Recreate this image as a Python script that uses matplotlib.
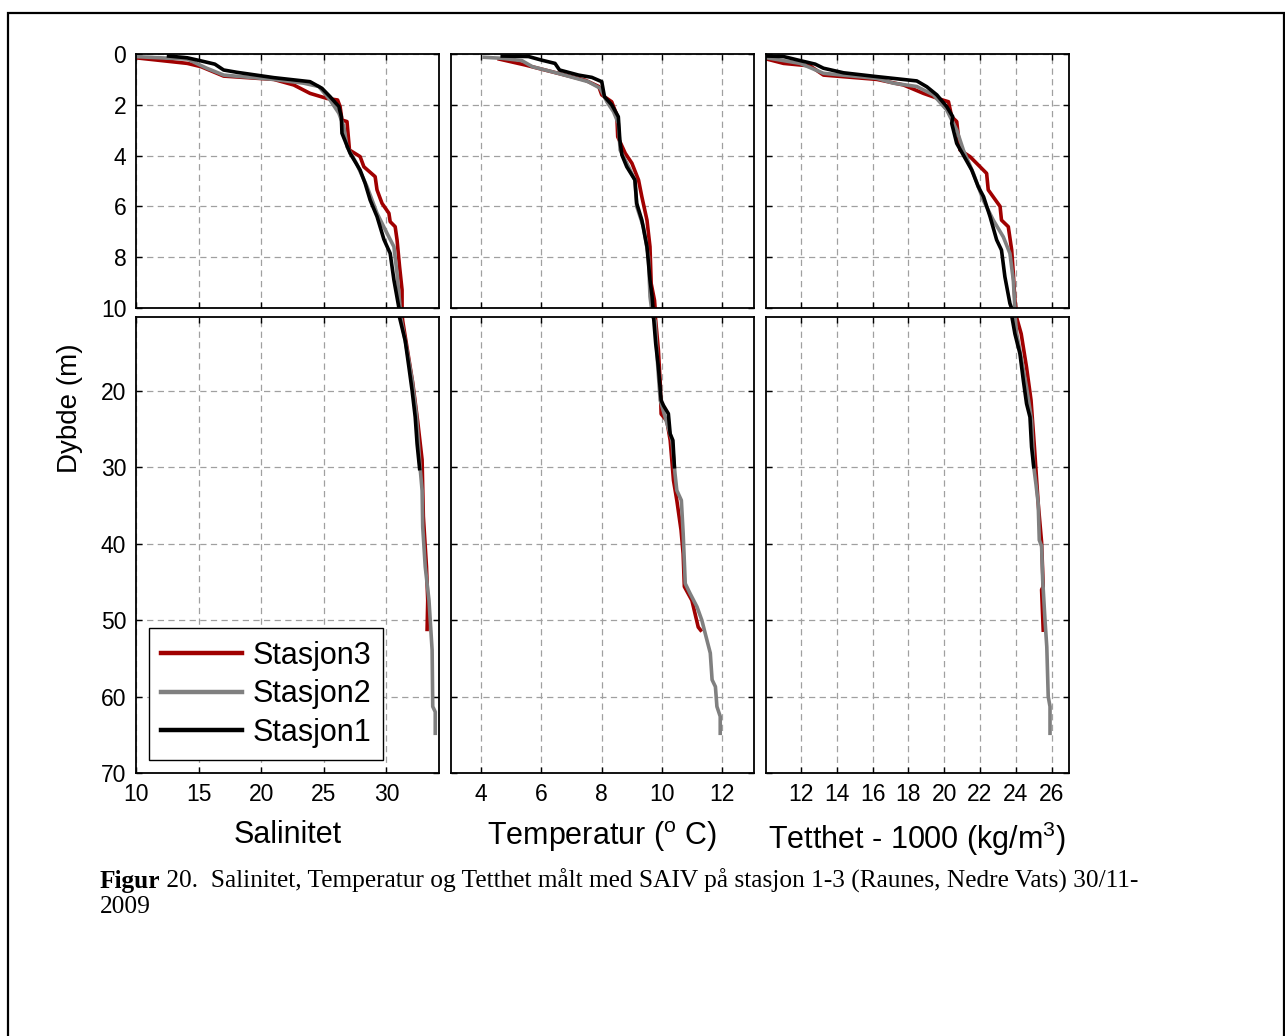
import matplotlib
matplotlib.use("Agg")
import matplotlib.pyplot as plt
from matplotlib.patches import Rectangle
from matplotlib.text import Annotation

plt.rcParams['font.family'] = ['Liberation Sans', 'DejaVu Sans']
plt.rcParams['mathtext.default'] = 'regular'

# ---------------- data ----------------
stations = ["Stasjon3", "Stasjon2", "Stasjon1"]
colors = ["#a00000", "#808080", "#000000"]

# Salinity
sal_depth_1 = [0.08, 0.15, 0.26, 0.40, 0.63, 0.72, 0.93, 1.09, 1.35, 1.68, 2.07, 2.47, 3.12, 3.91, 4.57,
               5.09, 5.75, 6.40, 7.30, 7.85, 8.90, 10.0, 10.7, 13.4, 16.9, 19.9, 23.4, 26.9, 30.15]
sal_1 = [12.6, 14.1, 15.1, 16.3, 17.0, 18.05, 21.0, 23.9, 24.85, 25.5, 26.2, 26.4, 26.45, 27.1, 27.9,
         28.3, 28.7, 29.25, 29.8, 30.3, 30.6, 31.0, 31.1, 31.5, 31.8, 32.05, 32.3, 32.45, 32.65]
sal_depth_2 = [0.10, 0.20, 0.56, 0.83, 1.00, 1.15, 1.28, 1.81, 2.33, 2.86, 3.65, 4.30, 5.22, 6.27, 7.06,
               7.59, 8.64, 10.0, 10.8, 14.7, 18.5, 23.1, 30.2, 33.0, 37.8, 43.0, 47.4, 50.0, 53.9,
               61.3, 62.0, 64.8]
sal_2 = [9.8, 14.1, 15.65, 17.0, 21.0, 23.4, 24.6, 25.5, 26.2, 26.6, 26.85, 27.6, 28.45, 29.25, 30.05,
         30.6, 30.85, 31.1, 31.2, 31.65, 32.05, 32.4, 32.7, 32.85, 32.9, 33.1, 33.4, 33.5, 33.65,
         33.7, 33.9, 33.9]
sal_depth_3 = [0.15, 0.37, 0.50, 0.87, 1.00, 1.22, 1.55, 1.75, 1.81, 2.07, 2.60, 2.66, 3.78, 4.04, 4.44,
               4.83, 5.35, 5.88, 6.27, 6.60, 6.80, 7.32, 8.37, 9.29, 10.0, 10.8, 18.9, 24.0, 29.0,
               36.4, 43.0, 47.4, 51.2]
sal_3 = [10.0, 14.1, 15.2, 17.0, 21.0, 22.6, 23.9, 25.25, 26.1, 26.3, 26.45, 26.85, 27.05, 27.9, 28.2,
         29.1, 29.25, 29.65, 30.2, 30.3, 30.7, 30.85, 31.05, 31.25, 31.25, 31.3, 32.1, 32.5, 32.85,
         32.95, 33.2, 33.3, 33.25]

# Temperature
tmp_depth_1 = [0.08, 0.10, 0.24, 0.37, 0.63, 0.83, 0.92, 1.09, 1.68, 2.00, 2.47, 3.39, 3.98, 4.44, 4.96,
               5.88, 6.54, 7.59, 8.90, 9.55, 10.0, 10.4, 13.8, 16.9, 21.2, 21.9, 22.96, 25.6, 26.45, 29.9]
tmp_1 = [4.7, 5.57, 6.0, 6.45, 6.6, 7.23, 7.67, 8.0, 8.09, 8.33, 8.55, 8.6, 8.67, 8.83, 9.1,
         9.16, 9.33, 9.5, 9.6, 9.67, 9.7, 9.72, 9.79, 9.88, 9.97, 10.05, 10.21, 10.27, 10.36, 10.41]
tmp_depth_2 = [0.13, 0.17, 0.26, 0.50, 0.76, 1.09, 1.35, 1.88, 2.27, 2.73, 3.78, 4.30, 4.96, 6.00, 6.80,
               7.98, 9.55, 10.0, 10.8, 16.9, 21.2, 23.4, 26.45, 30.8, 33.0, 34.3, 38.6, 45.2, 46.5,
               48.25, 50.0, 51.7, 54.3, 57.8, 58.7, 61.3, 62.6, 64.8]
tmp_2 = [4.1, 4.7, 5.35, 5.7, 6.55, 7.55, 7.95, 8.17, 8.39, 8.55, 8.61, 8.83, 9.1, 9.16, 9.38,
         9.55, 9.6, 9.65, 9.77, 9.86, 9.94, 10.1, 10.33, 10.43, 10.49, 10.64, 10.7, 10.77, 10.93,
         11.16, 11.32, 11.43, 11.6, 11.66, 11.77, 11.82, 11.93, 11.93]
tmp_depth_3 = [0.20, 0.43, 0.76, 1.03, 1.28, 1.61, 1.88, 2.40, 3.26, 3.91, 4.30, 4.96, 5.62, 6.54, 7.59,
               9.04, 9.70, 10.0, 10.8, 14.7, 19.0, 23.0, 23.9, 26.45, 31.7, 34.3, 38.2, 41.3, 45.6,
               47.4, 50.9, 51.3]
tmp_3 = [4.6, 5.45, 6.55, 7.45, 7.9, 8.0, 8.33, 8.5, 8.53, 8.78, 9.0, 9.22, 9.33, 9.5, 9.6,
         9.64, 9.75, 9.77, 9.79, 9.88, 9.94, 9.97, 10.16, 10.27, 10.38, 10.49, 10.63, 10.7, 10.74,
         10.99, 11.2, 11.28]

# Density (sigma)
den_depth_1 = [0.08, 0.10, 0.26, 0.40, 0.56, 0.74, 0.89, 1.06, 1.29, 1.61, 2.07, 2.47, 2.73, 3.52, 3.98,
               4.57, 5.22, 5.62, 6.40, 7.32, 7.72, 8.77, 9.82, 10.0, 12.5, 15.1, 18.6, 21.65, 23.4,
               27.3, 29.9]
den_1 = [10.1, 11.03, 11.96, 12.8, 13.26, 14.38, 16.24, 18.47, 19.03, 19.59, 20.14, 20.48, 20.42, 20.7,
         21.07, 21.54, 21.9, 22.2, 22.56, 22.93, 23.2, 23.39, 23.67, 23.76, 23.95, 24.23, 24.42,
         24.6, 24.79, 24.88, 25.0]
den_depth_2 = [0.15, 0.37, 0.76, 0.96, 1.15, 1.28, 1.61, 2.20, 2.99, 3.78, 4.70, 5.75, 6.54, 7.20, 7.85,
               8.90, 10.0, 12.5, 16.0, 19.5, 23.8, 29.9, 32.1, 34.7, 39.5, 40.3, 44.7, 50.0, 53.5,
               60.0, 61.3, 64.8]
den_2 = [10.1, 11.96, 13.26, 16.24, 17.17, 18.47, 19.4, 20.14, 20.7, 21.07, 21.63, 22.18, 22.74, 23.3,
         23.67, 23.86, 23.95, 24.05, 24.33, 24.6, 24.88, 25.0, 25.12, 25.25, 25.31, 25.44, 25.5,
         25.63, 25.73, 25.81, 25.91, 25.91]
den_depth_3 = [0.20, 0.37, 0.47, 0.83, 1.00, 1.22, 1.55, 1.78, 1.88, 2.47, 2.66, 3.78, 4.04, 4.70, 5.35,
               6.00, 6.54, 6.80, 7.72, 8.64, 9.70, 10.0, 12.5, 16.9, 21.2, 27.7, 34.7, 39.8, 45.6,
               46.0, 51.3]
den_3 = [10.1, 11.03, 12.52, 13.26, 16.24, 17.73, 18.84, 19.77, 20.24, 20.42, 20.7, 20.88, 21.44, 22.37,
         22.46, 23.12, 23.2, 23.58, 23.77, 23.86, 23.95, 24.0, 24.3, 24.6, 24.85, 25.05, 25.25,
         25.44, 25.53, 25.44, 25.53]

sal_ticks = [10, 15, 20, 25, 30]
tmp_ticks = [4, 6, 8, 10, 12]
den_ticks = [12, 14, 16, 18, 20, 22, 24, 26]
top_yticks = [0, 2, 4, 6, 8, 10]
bot_yticks = [20, 30, 40, 50, 60, 70]

xlabels = ["Salinitet", r"Temperatur ($^{o}$ C)", r"Tetthet - 1000 (kg/m$^3$)"]
ylabel = "Dybde (m)"
caption_bold = "Figur"
caption_rest = " 20.  Salinitet, Temperatur og Tetthet målt med SAIV på stasjon 1-3 (Raunes, Nedre Vats) 30/11-"
caption_line2 = "2009"

# ---------------- figure ----------------
W, H = 1285, 1036
fig = plt.figure(figsize=(W / 100, H / 100), dpi=100)

# outer frame
fig.add_artist(Rectangle((8 / W, -0.05), (1284 - 8) / W, 1 - 13 / H + 0.05,
                         transform=fig.transFigure, fill=False, edgecolor='black', lw=1.6))


def box(l, t, r, b):
    return [l / W, 1 - b / H, (r - l) / W, (b - t) / H]


cols = [(136, 439), (451, 754), (766, 1069)]
rows = [(54, 308), (317, 773)]

variables = [
    ([sal_depth_3, sal_depth_2, sal_depth_1], [sal_3, sal_2, sal_1], (10, 34.2), sal_ticks),
    ([tmp_depth_3, tmp_depth_2, tmp_depth_1], [tmp_3, tmp_2, tmp_1], (3, 13.05), tmp_ticks),
    ([den_depth_3, den_depth_2, den_depth_1], [den_3, den_2, den_1], (10.05, 26.97), den_ticks),
]

grid_kw = dict(color='#a0a0a0', linestyle=(0, (5, 3.5)), linewidth=0.9)
serif = ['Liberation Serif', 'DejaVu Serif']

for ci, (depths, vals, xlim, xt) in enumerate(variables):
    for ri, (t, b) in enumerate(rows):
        ax = fig.add_axes(box(cols[ci][0], t, cols[ci][1], b))
        handles = []
        for d, v, c, name in zip(depths, vals, colors, stations):
            ln, = ax.plot(v, d, color=c, lw=2.6, label=name)
            handles.append(ln)
        ax.set_xlim(*xlim)
        if ri == 0:
            ax.set_ylim(10, 0)
            ax.set_yticks(top_yticks)
        else:
            ax.set_ylim(70, 10.3)
            ax.set_yticks(bot_yticks)
        ax.set_xticks(xt)
        ax.grid(True, **grid_kw)
        ax.set_axisbelow(True)
        ax.tick_params(direction='in', top=True, right=True, length=4, width=1,
                       labelsize=16.5, pad=7)
        for s in ax.spines.values():
            s.set_linewidth(1.3)
        if ci != 0:
            ax.set_yticklabels([])
        if ri == 0:
            ax.set_xticklabels([])
        else:
            ax.set_xlabel(xlabels[ci], fontsize=22, labelpad=10)
        if ci == 0 and ri == 1:
            leg = ax.legend(handles=handles, loc='lower left', bbox_to_anchor=(0.043, 0.0285),
                            borderaxespad=0, fontsize=22, frameon=True, fancybox=False,
                            edgecolor='black', framealpha=1, handlelength=2.65,
                            handletextpad=0.33, labelspacing=0.28, borderpad=0.4)
            leg.get_frame().set_linewidth(1.0)
            for lh in leg.get_lines():
                lh.set_linewidth(3.2)

fig.text(70 / W, 1 - 408 / H, ylabel, rotation=90, fontsize=20, ha='center', va='center')

t1 = fig.text(100 / W, 1 - 888 / H, caption_bold, fontsize=18.3, fontweight='bold',
              family=serif, ha='left', va='baseline')
fig.add_artist(Annotation(caption_rest, xy=(1, 0), xycoords=t1, ha='left', va='bottom',
                          fontsize=18.3, family=serif))
fig.text(100 / W, 1 - 913 / H, caption_line2, fontsize=18.3, family=serif,
         ha='left', va='baseline')

fig.savefig("out.png", dpi=100)
